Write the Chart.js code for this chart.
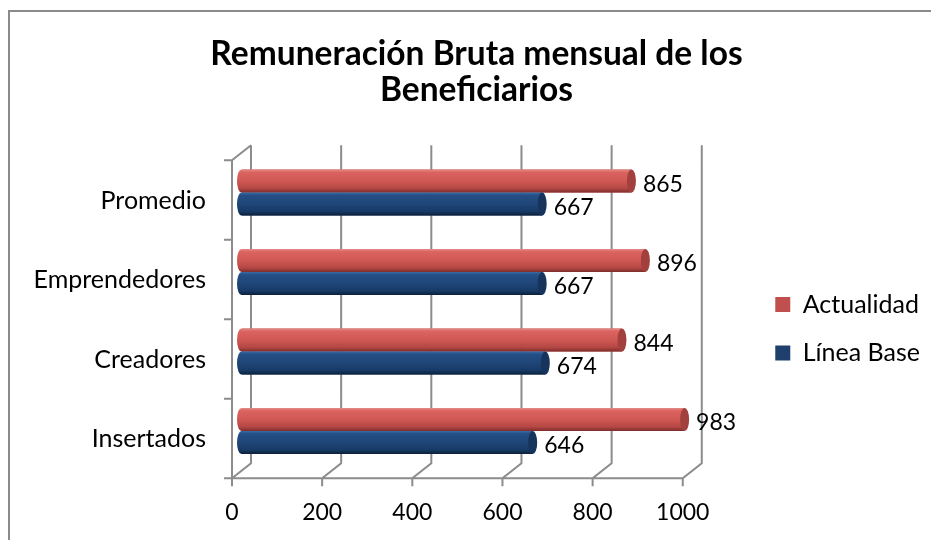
<!DOCTYPE html>
<html>
<head>
<meta charset="utf-8">
<script src="https://cdn.jsdelivr.net/npm/chart.js@4.4.1/dist/chart.umd.min.js"></script>
<style>
  html, body { margin: 0; padding: 0; background: #fff; }
  #wrap { position: relative; width: 931px; height: 540px; overflow: hidden; }
  #frame { position: absolute; left: 8px; top: 10px; width: 960px; height: 600px; border: 2px solid #8a8a8a; pointer-events: none; }
</style>
</head>
<body>
<div id="wrap">
  <canvas id="chart" width="931" height="540"></canvas>
  <div id="frame"></div>
</div>
<script>
const categories = ["Promedio", "Emprendedores", "Creadores", "Insertados"];
const actualidad = [865, 896, 844, 983];
const lineaBase = [667, 667, 674, 646];
const xTicks = [0, 200, 400, 600, 800, 1000];
const seriesNames = ["Actualidad", "Línea Base"];
const titleLines = ["Remuneración Bruta mensual de los", "Beneficiarios"];

const FONT = "Lato, 'Open Sans', sans-serif";
const DX = 9.5, DY = 7.5; // half depth of the 3D box

const shades = {
  red: { stops: ["#e48c89", "#dc6460", "#d05854", "#b44744", "#7d2d2b"], cap: "#a2403d" },
  blue: { stops: ["#3d6ba6", "#244f86", "#1f4678", "#173a66", "#0c1f38"], cap: "#17345c" }
};

// walls, floor and axis lines of the 3D box
const frame3d = {
  id: "frame3d",
  beforeDatasetsDraw(chart) {
    const { ctx, chartArea: a, scales: { x, y } } = chart;
    const x0 = x.getPixelForValue(xTicks[0]);
    const x1 = x.getPixelForValue(xTicks[xTicks.length - 1]);
    ctx.save();
    ctx.strokeStyle = "#8c8c8c";
    ctx.lineWidth = 2;
    ctx.beginPath();
    xTicks.forEach(v => {
      const px = x.getPixelForValue(v);
      ctx.moveTo(px + DX, a.top - DY);
      ctx.lineTo(px + DX, a.bottom - DY);
      ctx.lineTo(px - DX, a.bottom + DY);
      ctx.lineTo(px - DX, a.bottom + DY + 8);
    });
    ctx.moveTo(x0 - DX, a.bottom + DY);
    ctx.lineTo(x1 - DX, a.bottom + DY);
    ctx.moveTo(x0 - DX, a.bottom + DY);
    ctx.lineTo(x0 - DX, a.top + DY);
    ctx.lineTo(x0 + DX, a.top - DY);
    for (let i = 0; i <= categories.length; i++) {
      const py = y.getPixelForValue(i - 0.5) + DY;
      ctx.moveTo(x0 - DX - 8, py);
      ctx.lineTo(x0 - DX, py);
    }
    ctx.stroke();
    ctx.restore();
  }
};

// shade each bar as a cylinder and write its value
const cylinders = {
  id: "cylinders",
  afterDatasetsDraw(chart) {
    const { ctx } = chart;
    chart.data.datasets.forEach((ds, di) => {
      const s = shades[ds.shade];
      chart.getDatasetMeta(di).data.forEach((bar, i) => {
        const { x, y, base, height } = bar.getProps(["x", "y", "base", "height"], true);
        const top = y - height / 2, r = 4.5;
        const g = ctx.createLinearGradient(0, top, 0, top + height);
        [0, 0.12, 0.5, 0.82, 1].forEach((p, k) => g.addColorStop(p, s.stops[k]));
        ctx.save();
        ctx.fillStyle = g;
        ctx.beginPath();
        ctx.ellipse(base, y, r, height / 2, 0, Math.PI / 2, Math.PI * 1.5);
        ctx.lineTo(x, top);
        ctx.lineTo(x, top + height);
        ctx.closePath();
        ctx.fill();
        ctx.fillStyle = s.cap;
        ctx.beginPath();
        ctx.ellipse(x, y, r, height / 2, 0, 0, Math.PI * 2);
        ctx.fill();
        ctx.fillStyle = "#000";
        ctx.font = "23px " + FONT;
        ctx.textAlign = "left";
        ctx.textBaseline = "middle";
        ctx.fillText(String(ds.data[i]), x + r + 7, y + 3.5);
        ctx.restore();
      });
    });
  }
};

new Chart(document.getElementById("chart"), {
  type: "bar",
  data: {
    labels: categories,
    datasets: [
      { label: seriesNames[0], data: actualidad, backgroundColor: "#c0504d", shade: "red" },
      { label: seriesNames[1], data: lineaBase, backgroundColor: "#1f3f6c", shade: "blue" }
    ]
  },
  options: {
    indexAxis: "y",
    responsive: false,
    animation: false,
    categoryPercentage: 0.58,
    barPercentage: 1,
    layout: { padding: { left: 23, right: 1, top: 0, bottom: 0 } },
    scales: {
      x: {
        type: "linear",
        min: 0,
        max: 1132,
        afterBuildTicks: axis => { axis.ticks = xTicks.map(v => ({ value: v })); },
        afterFit: axis => { axis.height = 69.25; },
        ticks: { callback: v => String(v), labelOffset: -DX, padding: 28, color: "#000", font: { family: FONT, size: 23 } },
        grid: { display: false, drawTicks: false },
        border: { display: false }
      },
      y: {
        afterFit: axis => { axis.width = 218.5; },
        ticks: { labelOffset: DY + 0.5, padding: 35.5, color: "#000", font: { family: FONT, size: 25 } },
        grid: { display: false, drawTicks: false },
        border: { display: false }
      }
    },
    plugins: {
      title: {
        display: true,
        text: titleLines,
        color: "#000",
        font: { family: FONT, size: 33.5, weight: "bold", lineHeight: 1.075 },
        padding: { top: 36, bottom: 44.75 }
      },
      legend: {
        position: "right",
        title: { display: true, text: "", padding: { top: 105.5, bottom: 0 }, font: { size: 10 } },
        labels: { boxWidth: 15, boxHeight: 15, padding: 23.5, color: "#000", font: { family: FONT, size: 25 } }
      },
      tooltip: { enabled: false }
    }
  },
  plugins: [frame3d, cylinders]
});
</script>
</body>
</html>
